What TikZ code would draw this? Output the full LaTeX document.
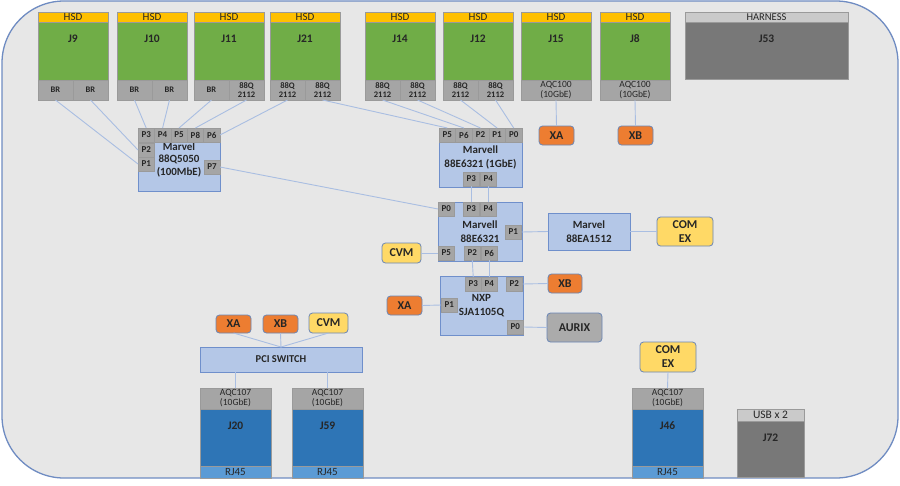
\documentclass[tikz,border=0pt]{standalone}
\usepackage{fontspec}
\setmainfont{Carlito}

\definecolor{boardgray}{HTML}{E7E7E7}
\definecolor{boardedge}{HTML}{6F8CC2}
\definecolor{hsdgold}{HTML}{FFC000}
\definecolor{greenc}{HTML}{70AD47}
\definecolor{cellgray}{HTML}{A5A5A5}
\definecolor{edgegray}{HTML}{9A9A9A}
\definecolor{swblue}{HTML}{B4C7E7}
\definecolor{swedge}{HTML}{6F8FCB}
\definecolor{tagorange}{HTML}{ED7D31}
\definecolor{tagyellow}{HTML}{FFD966}
\definecolor{taggray}{HTML}{ABABAB}
\definecolor{tagedge}{HTML}{6A86B6}
\definecolor{jblue}{HTML}{2E75B6}
\definecolor{rjblue}{HTML}{5B9BD5}
\definecolor{darkbox}{HTML}{787878}
\definecolor{lightband}{HTML}{CACACA}
\definecolor{linkblue}{HTML}{A9BEE2}

\begin{document}
\begin{tikzpicture}[
  x = 1pt, y = -1pt,
  every node/.style = {inner sep = 0pt, outer sep = 0pt, anchor = north west,
                       align = center, text = black!85},
  board/.style = {fill = boardgray, draw = boardedge, line width = 1.3pt, rounded corners = 62pt},
  band/.style = {minimum width = 70, minimum height = 10, fill = hsdgold, draw = edgegray,
                 font = \fontsize{11}{11}\selectfont},
  green/.style = {minimum width = 70, minimum height = 58, fill = greenc, draw = edgegray},
  cell/.style = {minimum width = 35, minimum height = 20, fill = cellgray, draw = edgegray,
                 font = \fontsize{8.5}{9}\selectfont\bfseries},
  dark/.style = {fill = darkbox, draw = edgegray},
  jlbl/.style = {anchor = center, yshift = -17pt, font = \fontsize{11.5}{12}\selectfont\bfseries},
  sw/.style = {fill = swblue, draw = swedge, line width = 0.8pt,
               font = \fontsize{11}{14}\selectfont\bfseries},
  port/.style = {minimum width = 16.5, minimum height = 14, fill = cellgray, draw = edgegray,
                 font = \fontsize{9}{9}\selectfont\bfseries},
  tag/.style = {rounded corners = 3.5pt, draw = tagedge, line width = 0.8pt,
                font = \fontsize{12}{14}\selectfont\bfseries},
  aqc/.style = {minimum width = 71, minimum height = 21, fill = cellgray, draw = edgegray,
                font = \fontsize{9.5}{10}\selectfont},
  jbody/.style = {minimum width = 71, minimum height = 57, fill = jblue, draw = edgegray},
  rj/.style = {minimum width = 71, minimum height = 12, fill = rjblue, draw = edgegray,
               font = \fontsize{11}{11}\selectfont},
  link/.style = {draw = linkblue, line width = 0.9pt},
  ]
  \useasboundingbox (0,0) rectangle (900,485);
  \draw[board] (2,1) rectangle (898,478);

  % connectors along the top edge
  \foreach \n/\t/\x/\a/\b in {j9/J9/38/BR/BR, j10/J10/117/BR/BR, j11/J11/194/BR/{88Q\\2112},
      j21/J21/270/{88Q\\2112}/{88Q\\2112}, j14/J14/365/{88Q\\2112}/{88Q\\2112},
      j12/J12/443/{88Q\\2112}/{88Q\\2112}}
  {
    \node[band] (\n-hsd) at (\x,12) {HSD};
    \node[green, label = {[jlbl]north:\t}] (\n) at (\x,22) {};
    \node[cell] (\n-a) at (\x,80) {\a};
    \node[cell] (\n-b) at (\x+35,80) {\b};
  }
  \foreach \n/\t/\x in {j15/J15/521, j8/J8/600}
  {
    \node[band] (\n-hsd) at (\x,12) {HSD};
    \node[green, label = {[jlbl]north:\t}] (\n) at (\x,22) {};
    \node[cell, minimum width = 70, font = \fontsize{9.5}{10}\selectfont] (\n-a) at (\x,80) {AQC100\\(10GbE)};
  }
  \node[band, fill = lightband, minimum width = 163, font = \fontsize{10.5}{11}\selectfont] (j53-top) at (685,12) {HARNESS};
  \node[dark, minimum width = 163, minimum height = 57, label = {[jlbl]north:J53}] (j53) at (685,22) {};

  % switches
  \node[sw, minimum width = 82, minimum height = 63, font = \fontsize{11}{12.5}\selectfont\bfseries] (q) at (138,128) {Marvel\\88Q5050\\(100MbE)};
  \foreach \p [count = \i from 0] in {3,4,5,8,6}
    \node[port, minimum width = 16.4] (q-p\p) at (138+16.4*\i,128) {P\p};
  \node[port] (q-p2) at (138,143) {P2};
  \node[port] (q-p1) at (138,157) {P1};
  \node[port, minimum width = 16] (q-p7) at (204,160) {P7};

  \node[sw, minimum width = 83, minimum height = 59] (ma) at (439,128) {Marvell\\88E6321 (1GbE)};
  \foreach \p [count = \i from 0] in {5,6,2,1,0}
    \node[port, minimum width = 16.6] (ma-p\p) at (439+16.6*\i,128) {P\p};
  \node[port] (ma-p3) at (463,172) {P3};
  \node[port] (ma-p4) at (480,172) {P4};

  \node[sw, minimum width = 84, minimum height = 59] (mb) at (438,202) {Marvell\\88E6321};
  \node[port] (mb-p0) at (438,202) {P0};
  \node[port] (mb-p3) at (463,202) {P3};
  \node[port] (mb-p4) at (480,202) {P4};
  \node[port] (mb-p1) at (505,225) {P1};
  \node[port] (mb-p5) at (438,246) {P5};
  \node[port] (mb-p2) at (464,246) {P2};
  \node[port] (mb-p6) at (481,246) {P6};

  \node[sw, minimum width = 82, minimum height = 37] (m1512) at (548,213) {Marvel\\88EA1512};

  \node[sw, minimum width = 83, minimum height = 59] (nxp) at (440,276) {NXP\\SJA1105Q};
  \node[port] (nxp-p3) at (465,277) {P3};
  \node[port] (nxp-p4) at (481,277) {P4};
  \node[port] (nxp-p2) at (506,277) {P2};
  \node[port] (nxp-p1) at (441,298) {P1};
  \node[port] (nxp-p0) at (507,320) {P0};

  % end points
  \node[tag, fill = tagorange, minimum width = 35, minimum height = 19] (xa1) at (539,126) {XA};
  \node[tag, fill = tagorange, minimum width = 35, minimum height = 19] (xb1) at (618,126) {XB};
  \node[tag, fill = tagyellow, minimum width = 56, minimum height = 29] (comex1) at (657,217) {COM\\EX};
  \node[tag, fill = tagyellow, minimum width = 39, minimum height = 20] (cvm1) at (382,243) {CVM};
  \node[tag, fill = tagorange, minimum width = 34, minimum height = 19] (xb2) at (548,274) {XB};
  \node[tag, fill = tagorange, minimum width = 35, minimum height = 19] (xa2) at (387,296) {XA};
  \node[tag, fill = taggray, minimum width = 55, minimum height = 29] (aurix) at (547,313) {AURIX};

  % PCI side
  \node[tag, fill = tagorange, minimum width = 35, minimum height = 18] (xa3) at (216,315) {XA};
  \node[tag, fill = tagorange, minimum width = 35, minimum height = 18] (xb3) at (263,315) {XB};
  \node[tag, fill = tagyellow, minimum width = 39, minimum height = 20] (cvm2) at (309,313) {CVM};
  \node[sw, minimum width = 162, minimum height = 25, font = \fontsize{10.5}{11}\selectfont\bfseries] (pci) at (200,347) {PCI SWITCH};
  \node[tag, fill = tagyellow, minimum width = 56, minimum height = 30] (comex2) at (640,342) {COM\\EX};

  % connectors along the bottom edge
  \foreach \n/\t/\x in {j20/J20/200, j59/J59/292, j46/J46/632}
  {
    \node[aqc] (\n-aqc) at (\x,388) {AQC107\\(10GbE)};
    \node[jbody, label = {[jlbl]north:\t}] (\n) at (\x,409) {};
    \node[rj] (\n-rj) at (\x,466) {RJ45};
  }
  \node[band, fill = lightband, minimum width = 67, minimum height = 12,
        font = \fontsize{11.5}{12}\selectfont] (j72-usb) at (737,409) {USB x 2};
  \node[dark, minimum width = 67, minimum height = 56, label = {[jlbl]north:J72}] (j72) at (737,421) {};

  % links
  \draw[link] (j9-a.south) -- (q-p1.west);
  \draw[link] (j9-b.south) -- (q-p2.west);
  \draw[link] (j10-a.south) -- (q-p3.north);
  \draw[link] (j10-b.south) -- (q-p4.north);
  \draw[link] (j11-a.south) -- (q-p5.north);
  \draw[link] (j11-b.south) -- (q-p8.north);
  \draw[link] (j21-a.south) -- (q-p6.east);
  \draw[link] (j21-b.south) -- (ma-p5.north);
  \draw[link] (j14-a.south) -- (ma-p6.north);
  \draw[link] (j14-b.south) -- (ma-p2.north);
  \draw[link] (j12-a.south) -- (ma-p1.north);
  \draw[link] (j12-b.south) -- (ma-p0.north);
  \draw[link] (j15-a.south) -- (xa1.north);
  \draw[link] (j8-a.south) -- (xb1.north);
  \draw[link] (q-p7.east) -- (mb-p0.west);
  \draw[link] (ma-p3.south) -- (mb-p3.north);
  \draw[link] (ma-p4.south) -- (mb-p4.north);
  \draw[link] (mb-p1.east) -- (m1512.west);
  \draw[link] (m1512.east) -- (comex1.west);
  \draw[link] (cvm1.east) -- (mb-p5.west);
  \draw[link] (mb-p2.south) -- (nxp-p3.north);
  \draw[link] (mb-p6.south) -- (nxp-p4.north);
  \draw[link] (nxp-p2.east) -- (xb2.west);
  \draw[link] (xa2.east) -- (nxp-p1.west);
  \draw[link] (nxp-p0.east) -- (aurix.west);
  \draw[link] (xa3.south) -- (pci.north);
  \draw[link] (xb3.south) -- (pci.north);
  \draw[link] (cvm2.south) -- (pci.north);
  \draw[link] (pci.south -| j20-aqc.north) -- (j20-aqc.north);
  \draw[link] (pci.south -| j59-aqc.north) -- (j59-aqc.north);
  \draw[link] (comex2.south) -- (j46-aqc.north);
\end{tikzpicture}
\end{document}
